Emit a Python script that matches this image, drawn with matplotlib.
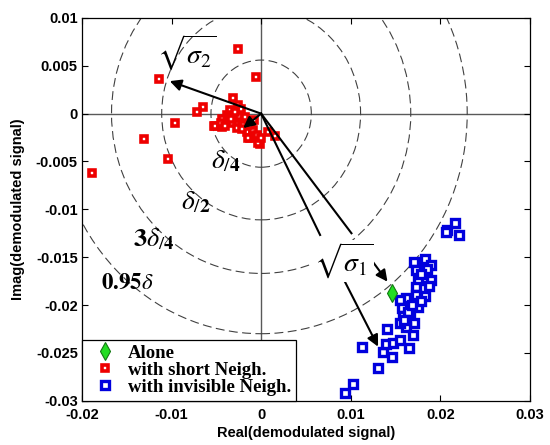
import matplotlib
matplotlib.use("Agg")
import matplotlib.pyplot as plt
from matplotlib.patches import Circle

# ---- data -----------------------------------------------------------------
ALONE_X = [0.01455]
ALONE_Y = [-0.0187]

SHORT_X = [-0.00263, -0.00059, -0.01138, -0.00312, -0.00647, -0.00714, -0.00963,
           -0.01308, -0.01044, -0.01885, 0.00153, -0.00015, -0.00528,
           -0.00257, -0.00349, -0.00386, -0.00442, -0.00516, -0.00442, -0.00368,
           -0.00293, -0.00219, -0.00201, -0.00163, -0.00089, -0.00126, -0.00051,
           -0.00033, 0.00004, 0.00078, -0.0025, -0.0018, -0.0032, -0.0027,
           -0.0012, -0.0008, -0.0045, -0.0022, -0.0015, -0.0036, -0.0029,
           -0.0040, -0.0021, -0.0034]
SHORT_Y = [0.00673, 0.00387, 0.00360, 0.00167, 0.00073, 0.00021, -0.00094,
           -0.00264, -0.00477, -0.00623, -0.00233, -0.00317, -0.00129,
           0.00091, 0.00039, -0.00014, -0.00059, -0.00129, -0.00136, -0.00084,
           -0.00048, -0.00066, -0.00118, -0.00188, -0.00170, -0.00257, -0.00223,
           -0.00309, -0.00257, -0.00188, -0.0002, -0.0004, -0.0010, -0.0015,
           -0.0012, -0.0007, -0.0010, 0.0005, -0.0025, -0.0003, 0.0002,
           -0.0013, -0.0016, -0.0006]

INVIS_X = [0.0207, 0.0216, 0.0221, 0.0206,
           0.0171, 0.0183, 0.0190, 0.0173, 0.0185, 0.0190, 0.0175, 0.0173, 0.0183,
           0.0173, 0.0175, 0.0178, 0.0187,
           0.0162, 0.0155, 0.0157, 0.0158, 0.0166, 0.0171, 0.0162, 0.0170, 0.0155,
           0.0164, 0.0168, 0.0160, 0.0178,
           0.0141, 0.0113, 0.0136, 0.0139, 0.0147, 0.0155, 0.0165, 0.0146, 0.0130,
           0.0103, 0.0094]
INVIS_Y = [-0.0122, -0.0114, -0.0127, -0.0124,
           -0.0155, -0.0152, -0.0158, -0.0163, -0.0162, -0.0174, -0.0174, -0.0181,
           -0.0191, -0.0190, -0.0202, -0.0168, -0.0180,
           -0.0193, -0.0195, -0.0203, -0.0212, -0.0210, -0.0219, -0.0223, -0.0231,
           -0.0219, -0.0207, -0.0200, -0.0216, -0.0196,
           -0.0225, -0.0244, -0.0249, -0.0241, -0.0240, -0.0237, -0.0245, -0.0254,
           -0.0266, -0.0283, -0.0292]

# dashed reference circles (radius) and their labels
CIRCLE_R = [0.0056, 0.0111, 0.0167, 0.0230]
CIRCLE_LABELS = [r"$\delta_{/\mathbf{4}}$", r"$\delta_{/\mathbf{2}}$",
                 r"$\mathbf{3}\delta_{/\mathbf{4}}$", r"$\mathbf{0.95}\delta$"]
CIRCLE_LABEL_POS = [(-0.0039, -0.0049), (-0.0073, -0.0092),
                    (-0.0120, -0.0131), (-0.0149, -0.0176)]
CIRCLE_LABEL_SIZE = [20, 20, 19, 16.5]

XTICKS = [-0.02, -0.01, 0, 0.01, 0.02, 0.03]
XTICKLABELS = ["-0.02", "-0.01", "0", "0.01", "0.02", "0.03"]
YTICKS = [0.01, 0.005, 0, -0.005, -0.01, -0.015, -0.02, -0.025, -0.03]
YTICKLABELS = ["0.01", "0.005", "0", "-0.005", "-0.01", "-0.015", "-0.02",
               "-0.025", "-0.03"]

plt.rcParams["mathtext.fontset"] = "stix"

fig = plt.figure(figsize=(5.5, 4.45), dpi=100)
ax = fig.add_axes([0.149, 0.0996, 0.8145, 0.86])
ax.set_xlim(-0.02, 0.03)
ax.set_ylim(-0.03, 0.01)

# zero lines
ax.axhline(0, color="0.35", lw=1.0, zorder=1)
ax.axvline(0, color="0.35", lw=1.0, zorder=1)

for r in CIRCLE_R:
    ax.add_patch(Circle((0, 0), r, fill=False, ls=(0, (8, 4)), ec="0.25",
                        lw=0.8, zorder=1))
for lab, (x, y), fs in zip(CIRCLE_LABELS, CIRCLE_LABEL_POS, CIRCLE_LABEL_SIZE):
    ax.text(x, y, lab, fontsize=fs, ha="center", va="center", zorder=2)


def arrow(tip, start):
    ax.annotate("", xy=tip, xytext=start,
                arrowprops=dict(arrowstyle="-|>", color="k", lw=1.5,
                                mutation_scale=17, shrinkA=0, shrinkB=0),
                zorder=5)


arrow((-0.0102, 0.0034), (0, 0))          # sqrt(sigma2)
arrow((-0.0020, -0.0015), (0, 0))          # short one into the red cluster
ax.plot([0, 0.00658], [0, -0.01268], color="k", lw=1.5, zorder=5)
ax.plot([0, 0.01008], [0, -0.0125], color="k", lw=1.5, zorder=5)
arrow((0.01305, -0.02435), (0.00915, -0.0172))
arrow((0.0141, -0.01756), (0.0119, -0.01477))

ax.text(-0.0083, 0.0063, r"$\sqrt{\sigma_2}$", fontsize=20, ha="center",
        va="center", zorder=6)
ax.text(0.0092, -0.0154, r"$\sqrt{\sigma_1}$", fontsize=20, ha="center",
        va="center", zorder=6,
        bbox=dict(fc="white", ec="none", pad=0.5))

ax.plot(ALONE_X, ALONE_Y, "d", color="#22dd22", mec="#117711", mew=0.8,
        ms=9, ls="none", label="Alone", zorder=4)
ax.plot(SHORT_X, SHORT_Y, "s", mfc="white", mec="#ee0000", mew=2.6, ms=4.6,
        ls="none", label="with short Neigh.", zorder=3)
ax.plot(INVIS_X, INVIS_Y, "s", mfc="white", mec="#0000dd", mew=2.4, ms=5.2,
        ls="none", label="with invisible Neigh.", zorder=3)

ax.set_xticks(XTICKS)
ax.set_xticklabels(XTICKLABELS)
ax.set_yticks(YTICKS)
ax.set_yticklabels(YTICKLABELS)
ax.tick_params(direction="in", length=4, top=True, right=True, width=0.8,
               labelsize=10.5)
ax.tick_params(axis="x", pad=5)
ax.tick_params(axis="y", pad=3)
for t in ax.get_xticklabels() + ax.get_yticklabels():
    t.set_fontfamily("Liberation Sans")
    t.set_fontweight("bold")
ax.set_xlabel("Real(demodulated signal)", fontsize=10.5, fontweight="bold",
              family="Liberation Sans", labelpad=3)
ax.set_ylabel("Imag(demodulated signal)", fontsize=10.5, fontweight="bold",
              family="Liberation Sans", labelpad=8)
for s in ax.spines.values():
    s.set_linewidth(0.9)

leg = ax.legend(loc="lower left", borderaxespad=0, fancybox=False,
                edgecolor="k", framealpha=1, handlelength=2.0,
                handletextpad=0.2, labelspacing=0.0, borderpad=0.25,
                prop=dict(family="Liberation Serif", weight="bold", size=13.5))
leg.get_frame().set_linewidth(0.9)

fig.savefig("out.png", dpi=100)
